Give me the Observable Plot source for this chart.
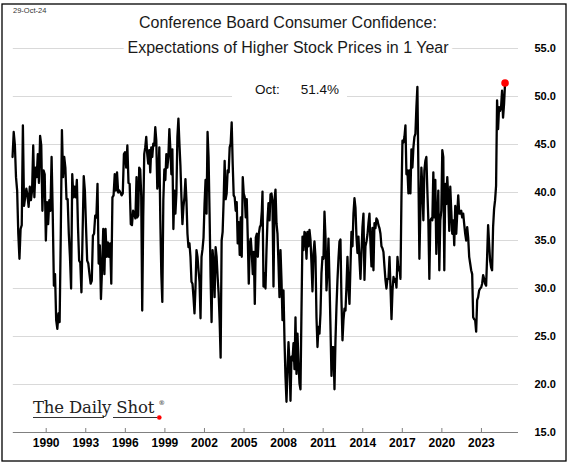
<!DOCTYPE html>
<html><head><meta charset="utf-8">
<script src="https://cdn.jsdelivr.net/npm/d3@7"></script>
<script src="https://cdn.jsdelivr.net/npm/@observablehq/plot@0.6"></script>
<style>body{margin:0;background:#fff}#chart{width:571px;height:469px}</style>
</head><body><div id="chart"></div>
<script>
// Share of consumers expecting higher stock prices in 1 year (%)
const seg1 = [43.7,46.3,45,41.6,40.2,35.7,33.1,36.2,36.6,47,
38.6,39.5,40.4,39.7,38.5,40.6,39.2,40.2,44.9,39.5,
42.6,41.6,44,41,45.9,44.9,38.1,42.3,41.9,35,
39,36.7,39.2,38.1,43.7,37.8,30.3,31.5,26.7,25.8,
27.4,26.5,35.7,46.5,41.6,43.7,42.6,39.3,39.3,35.7,
33.3,30,41.9,39.5,40.6,39.5,41.3,36.4,32.9,32.7,
29.6,35.7,41.7,40.2,36.4,32.9,32.6,31.5,30.5,30.8,
35.5,35.7,37.6,37.4,40.9,32.6,34.5,28.9,32.2,36.2,
31.5,36.2,33.3,34.8,33.3,34.7,30.5,39.5,39.7,41.9,
40.2,42.1,40,40.2,40,39.7,39.9,44,44.2,42.6,
44.9,41,40.9,36.7,36.6,38.1,37.8,37.3,41.6];
const seg2 = [37.4,37.6,42.6,42.4,39.7,27.7,37.4,44,44.7,45.8,
44,43,44.4,42.1,44.7,43.7,45.1,44.9,46.8,45.4,
40.4,41.3,44.7,37.1,31.5,28.6,39.2,42.4,41.3,44,
42.6,43.7,46.6,44.5,41.9,44.5,36.2,40.2,37.8,39.9,
45.8,47.7,45.1,42.8,39.5,36.7,38.5,39.5,41.4,39.2,
35.7,34.3,34.7,33.3,30.7,30.5,29.1,27.4,30.1,34,
33.3,31.9,30.7,26.9,33.3,34.1,35.3,38.8,41.3,37.8,
46.3,43.7,37.8,31.2,26.5,34,32.6,29.1,34.3,33.3,
31.2,29.5,26.7,22.8,35,35.9,39.2,43.3,39.3,39.9,
42.3,42.1,44.7,45.1,47.3,43,39.7,39.5,38.1,39,
34.7,36.9,33.5,37.4,33.3,41.6,39.9,39.5,37.4,39.3,
35.3,30.5,34.7,35.2,33.6,31.5,33.8,28.4,35.3,35.7,
33.3,35.7,36.4,36.6,38.1];
const seg3 = [40.1,30.2,31.6,30,34,37.1,38.9,37.1,39.8,39.9,
38.9,30.2,39.2,40.3,36.8,35.7,32.6,29.1,34,30.9,
26.7,29.8,24.6,20.8,18.2,21.5,24.4,22.2,18.3,22.9,
22.5,24.3,21.6,27,21.1,25.3,22.3,20.1,19.5,27.7,
35.4,34,35.9,35.7,33.1,35.9,34.4,36.1,35.1,32.6,
29.7,33.7,34.9,33.3,27,23.9,26,25.3,27.4,31.6,
33.3,33.1,38,35.4,29.8,31.9,35.2,30.9,26,20.9,
23.9,23.9,19.5,24.6,28.1,30.9,33.1,34.9,35.1,28.8,
24.6,26.7,27.9,27.7,30.2,33.3,30.2,28.4,32.3,35.9,
34.4,37.8,39.4,38.4,35.4,33.7,35.4,33,31,33.7,
36.4,37.8,30.9,34.4,34.9,35.6,36.8,37.8,34.7,32.3,
36.3,31.9,36.8,36.3,37.3,37.1,36.6,36.3,35.7,34.4,
34.2,33.8,32.3,30.9,30,31,31];
const seg4 = [33.3,30.1,26.8,29.8,31.2,30.7,31,30.1,33.3,31.9,
32.2,31,39.5,45.4,45.2,45.8,47,41.9,42.3,39.9,
42.3,39.9,44.5,42.6,44.7,45.8,46.1,48.9,51,42.3,
33.1,38.1,42.6,40.6,37.1,42.3,43.3,43.7,40.2,37.1,
31,37.1,37.3,37.1,42.1,37.4,41.3,33.6,37.1,40.2,
31.9,37.1,38.1,44.4,43.7,31.9,40.9,38.8,41.6,39.5,
36,40.6,38.1,35.7,37.1,34.5,38.6,35.7,37.8,39.7,
37.8,37.8,38.1,37.4,37.8,36.7,35.7,35,36.4,35.3,
33.3,32.6,31.9,31.5,27,26.8,26.7,25.5,28.8,29.1,
29.8,30,30.1,30.5,31.4,31,30.5,30.3,33.3,36.6,
34.7,32.9,32.2,31.9,36.4,38.3,39.2,40.7,49.6,46.6,
48.9,48.5,48.9,50.6,47.8,49.2,51.4];
// first and last date (decimal years) covered by each segment
const segStarts = [1987.45, 1996.90, 2006.40, 2016.03];
const segEnds   = [1996.85, 2006.35, 2015.95, 2024.79];
const yTicks = [15, 20, 25, 30, 35, 40, 45, 50, 55];
const xTicks = [1990, 1993, 1996, 1999, 2002, 2005, 2008, 2011, 2014, 2017, 2020, 2023];
const xDomain = [1987.506, 2025.81];
const yDomain = [15, 55];
const titleLines = ["Conference Board Consumer Confidence:", "Expectations of Higher Stock Prices in 1 Year"];
const dateStamp = "29-Oct-24";
const lastMonth = "Oct:";
const logoText = "The Daily Shot";

const segs = [seg1, seg2, seg3, seg4];
const data = segs.flatMap((vals, k) => vals.map((v, i) => ({
  t: segStarts[k] + i * (segEnds[k] - segStarts[k]) / (vals.length - 1), v })));
const last = data[data.length - 1];

const font = "'Liberation Sans', Arial, sans-serif";
const svg = Plot.plot({
  width: 571, height: 469,
  marginLeft: 12.8, marginRight: 53, marginTop: 48, marginBottom: 37,
  style: {fontFamily: font, background: "white", color: "#000"},
  x: {domain: xDomain, axis: null},
  y: {domain: yDomain, axis: null},
  marks: [
    Plot.ruleY(yTicks.filter(d => d > 15), {stroke: "#d9d9d9", strokeWidth: 1}),
    Plot.ruleY([15], {stroke: "#808080", strokeWidth: 1.2}),
    Plot.ruleX(xTicks, {y1: 15, y2: 15, insetTop: -4, insetBottom: -1, stroke: "#808080"}),
    Plot.text(xTicks, {x: d => d, y: 15, dy: 10.5, text: d => String(d), fontWeight: "bold", fontSize: 12, fill: "#000"}),
    Plot.text(yTicks, {y: d => d, frameAnchor: "right", dx: 16, textAnchor: "start", text: d => d.toFixed(1), fontWeight: "bold", fontSize: 11, fill: "#000"}),
    Plot.line(data, {x: "t", y: "v", stroke: "#000", strokeWidth: 2.3, strokeLinejoin: "round"}),
    Plot.dot([last], {x: "t", y: "v", r: 3.8, fill: "#ff0000", stroke: "none"})
  ]
});

const s = d3.select(svg);
// border
s.append("rect").attr("x", 2).attr("y", 4).attr("width", 564).attr("height", 457)
  .attr("fill", "none").attr("stroke", "#000").attr("stroke-width", 1.3);
// date stamp
s.append("text").attr("x", 13).attr("y", 13).attr("text-anchor", "start").attr("font-size", 7.5).attr("fill", "#333").text(dateStamp);
// title
titleLines.forEach((t, i) => {
  s.append("text").attr("x", 288).attr("y", 28 + i * 25).attr("text-anchor", "middle")
    .attr("font-size", 16).attr("fill", "#1a1a1a")
    .attr("stroke", "white").attr("stroke-width", 10).attr("paint-order", "stroke")
    .attr("stroke-linejoin", "round").text(t);
});
// last value box
s.append("rect").attr("x", 232).attr("y", 82).attr("width", 115).attr("height", 18).attr("fill", "white");
s.append("text").attr("x", 255).attr("y", 94.3).attr("text-anchor", "start").attr("font-size", 13.5).attr("fill", "#111").text(lastMonth);
s.append("text").attr("x", 339).attr("y", 94.3).attr("text-anchor", "end").attr("font-size", 13.5).attr("fill", "#111")
  .text(last.v.toFixed(1) + "%");
// logo
s.append("text").attr("x", 33).attr("y", 413.3).attr("text-anchor", "start").attr("font-family", "'DejaVu Serif', serif")
  .attr("font-size", 16.5).attr("letter-spacing", -0.15).attr("fill", "#222").text(logoText);
s.append("text").attr("x", 158.5).attr("y", 405).attr("text-anchor", "start").attr("font-family", "'DejaVu Serif', serif")
  .attr("font-size", 6.5).attr("fill", "#222").text("®");
s.append("line").attr("x1", 33).attr("x2", 104).attr("y1", 417.5).attr("y2", 417.5).attr("stroke", "#333").attr("stroke-width", 1.2);
s.append("line").attr("x1", 113).attr("x2", 157).attr("y1", 417.5).attr("y2", 417.5).attr("stroke", "#333").attr("stroke-width", 1.2);
s.append("circle").attr("cx", 159.3).attr("cy", 417.5).attr("r", 2.3).attr("fill", "#ff0000");

document.getElementById("chart").appendChild(svg);
</script>
</body></html>
